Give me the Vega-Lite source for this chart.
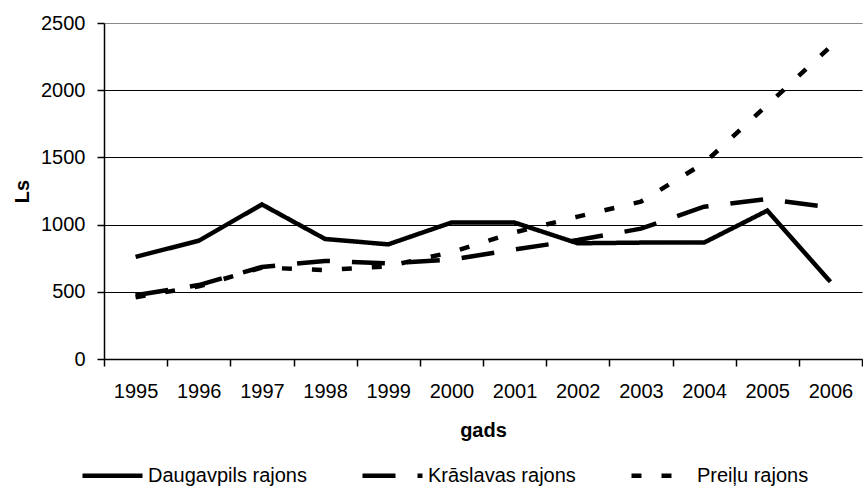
{
  "$schema": "https://vega.github.io/schema/vega-lite/v6.json",
  "width": 758,
  "height": 336,
  "autosize": {"type": "none"},
  "padding": {"left": 104, "top": 23, "right": 1, "bottom": 129},
  "background": "white",
  "config": {
    "font": "Liberation Sans",
    "view": {"stroke": null}
  },
  "data": {
    "values": [
      {"gads": "1995", "rajons": "Daugavpils rajons", "Ls": 760},
      {"gads": "1996", "rajons": "Daugavpils rajons", "Ls": 880},
      {"gads": "1997", "rajons": "Daugavpils rajons", "Ls": 1150},
      {"gads": "1998", "rajons": "Daugavpils rajons", "Ls": 893},
      {"gads": "1999", "rajons": "Daugavpils rajons", "Ls": 853},
      {"gads": "2000", "rajons": "Daugavpils rajons", "Ls": 1015},
      {"gads": "2001", "rajons": "Daugavpils rajons", "Ls": 1015},
      {"gads": "2002", "rajons": "Daugavpils rajons", "Ls": 861},
      {"gads": "2003", "rajons": "Daugavpils rajons", "Ls": 866},
      {"gads": "2004", "rajons": "Daugavpils rajons", "Ls": 866},
      {"gads": "2005", "rajons": "Daugavpils rajons", "Ls": 1104},
      {"gads": "2006", "rajons": "Daugavpils rajons", "Ls": 575},
      {"gads": "1995", "rajons": "Krāslavas rajons", "Ls": 475},
      {"gads": "1996", "rajons": "Krāslavas rajons", "Ls": 550},
      {"gads": "1997", "rajons": "Krāslavas rajons", "Ls": 685},
      {"gads": "1998", "rajons": "Krāslavas rajons", "Ls": 730},
      {"gads": "1999", "rajons": "Krāslavas rajons", "Ls": 711},
      {"gads": "2000", "rajons": "Krāslavas rajons", "Ls": 740},
      {"gads": "2001", "rajons": "Krāslavas rajons", "Ls": 815},
      {"gads": "2002", "rajons": "Krāslavas rajons", "Ls": 885},
      {"gads": "2003", "rajons": "Krāslavas rajons", "Ls": 970},
      {"gads": "2004", "rajons": "Krāslavas rajons", "Ls": 1133},
      {"gads": "2005", "rajons": "Krāslavas rajons", "Ls": 1190},
      {"gads": "2006", "rajons": "Krāslavas rajons", "Ls": 1128},
      {"gads": "1995", "rajons": "Preiļu rajons", "Ls": 460},
      {"gads": "1996", "rajons": "Preiļu rajons", "Ls": 540},
      {"gads": "1997", "rajons": "Preiļu rajons", "Ls": 680},
      {"gads": "1998", "rajons": "Preiļu rajons", "Ls": 662},
      {"gads": "1999", "rajons": "Preiļu rajons", "Ls": 690},
      {"gads": "2000", "rajons": "Preiļu rajons", "Ls": 795},
      {"gads": "2001", "rajons": "Preiļu rajons", "Ls": 942},
      {"gads": "2002", "rajons": "Preiļu rajons", "Ls": 1059},
      {"gads": "2003", "rajons": "Preiļu rajons", "Ls": 1171},
      {"gads": "2004", "rajons": "Preiļu rajons", "Ls": 1458},
      {"gads": "2005", "rajons": "Preiļu rajons", "Ls": 1890},
      {"gads": "2006", "rajons": "Preiļu rajons", "Ls": 2324}
    ]
  },
  "mark": {"type": "line", "color": "black", "strokeWidth": 4.5, "strokeCap": "butt"},
  "encoding": {
    "x": {
      "field": "gads",
      "type": "ordinal",
      "scale": {"type": "band", "paddingInner": 0, "paddingOuter": 0},
      "axis": {
        "title": "gads",
        "titleFont": "Liberation Sans",
        "titleFontSize": 20,
        "titleFontWeight": "bold",
        "titleColor": "black",
        "titlePadding": 19,
        "labelAngle": 0,
        "labelFontSize": 20,
        "labelColor": "black",
        "labelPadding": 15,
        "tickBand": "extent",
        "tickSize": 7,
        "tickColor": "black",
        "domainColor": "black",
        "domainWidth": 1.5,
        "tickWidth": 1.5,
        "grid": false
      }
    },
    "y": {
      "field": "Ls",
      "type": "quantitative",
      "scale": {"domain": [0, 2500], "nice": false},
      "axis": {
        "title": "Ls",
        "titleFontSize": 20,
        "titleFontWeight": "bold",
        "titleColor": "black",
        "titlePadding": 8,
        "values": [0, 500, 1000, 1500, 2000, 2500],
        "format": "d",
        "labelFontSize": 20,
        "labelColor": "black",
        "labelPadding": 12,
        "tickSize": 7,
        "tickColor": "black",
        "tickWidth": 1.5,
        "domainColor": "black",
        "domainWidth": 1.5,
        "grid": true,
        "gridColor": {"condition": {"test": "datum.value === 2500", "value": "#888888"}, "value": "black"},
        "gridWidth": 1.2
      }
    },
    "strokeDash": {
      "field": "rajons",
      "type": "nominal",
      "scale": {
        "domain": ["Daugavpils rajons", "Krāslavas rajons", "Preiļu rajons"],
        "range": [[1, 0], [33, 22], [10, 20]]
      },
      "legend": {
        "title": null,
        "orient": "none",
        "direction": "horizontal",
        "legendX": -24,
        "legendY": 420,
        "symbolType": "stroke",
        "symbolSize": 3600,
        "symbolStrokeWidth": 4.5,
        "symbolStrokeColor": "black",
        "labelFontSize": 20,
        "labelColor": "black",
        "labelOffset": 3,
        "columnPadding": 46
      }
    }
  }
}
